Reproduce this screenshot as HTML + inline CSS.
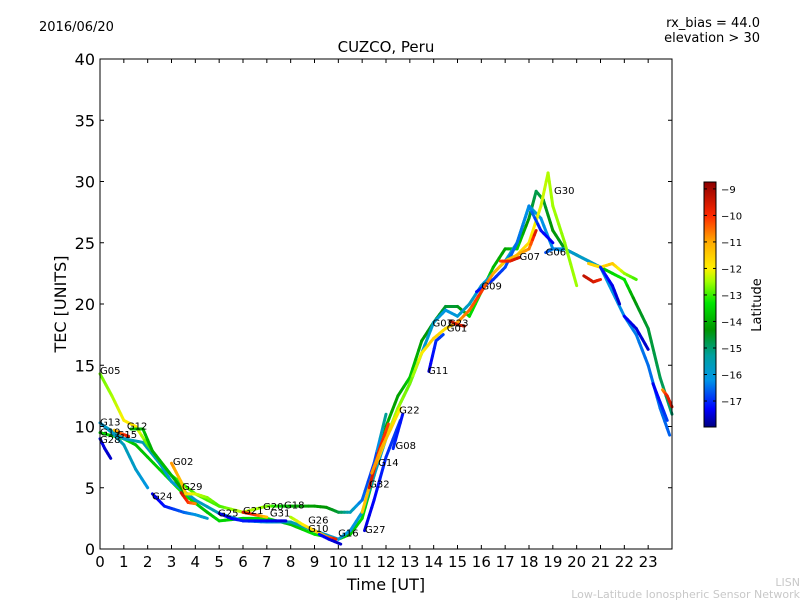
<!DOCTYPE html>
<html><head><meta charset="utf-8">
<style>
html,body{margin:0;padding:0;background:#fff;}
svg{display:block;font-family:"DejaVu Sans","Liberation Sans",sans-serif;}
</style></head>
<body>
<svg id="chart" width="800" height="600" viewBox="0 0 800 600" xmlns="http://www.w3.org/2000/svg">
  <defs>
    <linearGradient id="jet" x1="0" y1="1" x2="0" y2="0"></linearGradient>
  </defs>
  <text x="39" y="31" font-size="13">2016/06/20</text>
  <text x="760" y="27" font-size="13" text-anchor="end">rx_bias = 44.0</text>
  <text x="760" y="42" font-size="13" text-anchor="end">elevation &gt; 30</text>
  <text x="386" y="52" font-size="15" text-anchor="middle">CUZCO, Peru</text>
  <text x="386" y="590" font-size="16" text-anchor="middle">Time [UT]</text>
  <text transform="translate(66,304) rotate(-90)" font-size="16" text-anchor="middle">TEC [UNITS]</text>
  <text x="800" y="586" font-size="11" fill="#c8c8c8" text-anchor="end">LISN</text>
  <text x="800" y="598" font-size="11" fill="#c8c8c8" text-anchor="end">Low-Latitude Ionospheric Sensor Network</text>
  <g id="tracks"></g>
  <g id="labels"></g>
  <g id="axes"></g>
  <rect x="100" y="59" width="572" height="490" fill="none" stroke="#000" stroke-width="1"/>
  <rect x="704" y="182" width="12" height="245" fill="url(#jet)" stroke="#000" stroke-width="1"/>
  <g id="cbticks"></g>
  <text transform="translate(761,305) rotate(-90)" font-size="13" text-anchor="middle">Latitude</text>
</svg>
<script>
const xTicks = [0,1,2,3,4,5,6,7,8,9,10,11,12,13,14,15,16,17,18,19,20,21,22,23];
const yTicks = [0,5,10,15,20,25,30,35,40];
const cbTicks = [-9,-10,-11,-12,-13,-14,-15,-16,-17];

const trackA_t = [0,1,1.5,2.5,3.5,4.5,5,6,7,8,9,10,10.5,11,11.5,12,12.5,13,13.5,14,14.5,15,15.5,16,16.5,17,17.5,18,18.3,18.6,19,19.5,20,20.5,21,21.5,22,22.5,23,23.5,24];
const trackA_v = [9.5,9,8.5,6.5,4.5,3,2.3,2.5,2.5,2,1.2,0.8,1.2,2.5,6,10,12.5,14,17,18.5,19.8,19.8,19,21,23,24.5,24.5,27,29.2,28.5,26,24.5,24,23.5,23,22.5,22,20,18,14,11];
const trackA_l = [-13.5,-13.2,-13.8,-13.6,-13.2,-13.8,-13.5,-13.6,-13.2,-13.8,-13.3,-13.6,-13.8,-13.4,-13.8,-14,-14.2,-13.6,-14.2,-14.5,-14.6,-14.6,-13.5,-13.2,-13.8,-14.2,-13.5,-14.4,-14.8,-14.6,-14.3,-14.5,-14.5,-14.2,-13.8,-13.5,-13.2,-14.4,-14.6,-14.8,-15];

const trackB_t = [0.2,1,1.8,2.5,3,4,5,6,7,8,9,10,10.5,11,11.5,12,12.5,13,13.5,14,14.5,15,15.5,16,16.5,17,17.5,18,18.5,19,19.5,20,21,21.5,22,22.5,23,23.5,23.9];
const trackB_v = [10,9,8.7,7,5.5,4,2.9,2.3,2.2,2.2,1.5,0.8,1.5,3,6,9,11.5,13.5,16,18.5,19.5,19,20,21.5,22.5,23.5,25,28,27,24.5,24.5,24,23,21,19,17.5,15,11.5,9.3];
const trackB_l = [-15.5,-15.8,-15.5,-15.7,-16,-15.8,-15.5,-16.2,-16,-15.5,-15.6,-16,-16.2,-16,-15.8,-15.8,-15.5,-15.6,-16,-15.8,-16.2,-16,-15.7,-15.9,-16.2,-16,-15.8,-15.6,-16.2,-16.3,-16.2,-15.8,-16,-16.2,-16.3,-16.4,-16.5,-16.5,-16.6];

const trackF_t = [0,0.5,1,1.5,2,3,4,5,6,7,8,9,9.5,10,10.5,11,11.5,12];
const trackF_v = [14.3,12.5,10.5,10,8.5,6,4.5,3.5,3,3.5,3.5,3.5,3.4,3,3,4,7,11];
const trackF_l = [-12.8,-12.5,-12,-11.8,-12.9,-13.2,-12.9,-13,-12.3,-12.6,-14,-14.2,-14.3,-14.6,-15.5,-16.5,-17,-15];

const trackC_t = [17.5,18,18.5,18.8,19,19.5,20];
const trackC_v = [24,25,28,30.7,28,25,21.5];
const trackC_l = [-11.5,-11.8,-12.2,-12.4,-12.5,-12.6,-12.5];

const trackD_t = [15.8,16.5,17,17.5,18,18.5,19];
const trackD_v = [21,22,23,25,28,26,25];
const trackD_l = [-17.2,-17,-16.8,-16.5,-16.2,-17.2,-17.4];

const trackE_t = [11,11.5,12,12.5,13,13.5,14,14.5,15,15.5,16,16.5,17,17.5,18,18.3];
const trackE_v = [3,6.5,9,11.5,13.5,16,17.2,18,18.5,19.5,21,22.5,23.5,24,24.5,26];
const trackE_l = [-11.5,-11,-12,-12.5,-12.8,-12,-11.5,-11.8,-11,-10.5,-10,-11,-11.5,-11.2,-10.8,-9.5];

const trackG_t = [20.5,21,21.5,22,22.5];
const trackG_v = [23.3,23,23.3,22.5,22];
const trackG_l = [-11.5,-11.8,-11.3,-12.5,-13];

const trackH_t = [20.3,20.7,21];
const trackH_v = [22.3,21.8,22];
const trackH_l = [-9.3,-9.5,-9.8];

const trackI_t = [21,21.5,21.8];
const trackI_v = [23,21.5,20];
const trackI_l = [-17,-17.4,-17.6];

const trackJ_t = [22,22.5,23];
const trackJ_v = [19,18,16.3];
const trackJ_l = [-17.3,-17.5,-17.6];

const trackK_t = [23.2,23.5,23.8];
const trackK_v = [13.5,12,10.5];
const trackK_l = [-17.4,-17.2,-16.8];

const trackL_t = [23.6,23.8,24];
const trackL_v = [13,12.5,11.6];
const trackL_l = [-11,-9.8,-9.5];

const trackG28_t = [0,0.2,0.45];
const trackG28_v = [9,8.2,7.4];
const trackG28_l = [-17.2,-17.5,-17.6];

const trackG13_t = [0,0.5,1,1.5,2];
const trackG13_v = [10.3,9.5,8.5,6.5,5];
const trackG13_l = [-16,-15.8,-15.6,-15.8,-16.2];

const trackG12_t = [1.3,1.8,2.2,2.8,3.2,3.6];
const trackG12_v = [9.8,9.8,8,6.5,5.5,4.5];
const trackG12_l = [-13.6,-13.8,-14,-13.8,-14,-14.2];

const trackG15_t = [0.6,0.9,1.2];
const trackG15_v = [9.7,9.4,9.2];
const trackG15_l = [-11.5,-10.5,-9.5];

const trackG02_t = [3,3.4,3.6,4,4.5,5];
const trackG02_v = [7,5.5,4.5,4.5,4.2,3.5];
const trackG02_l = [-10.8,-11.3,-11.5,-12.2,-12.6,-13];

const trackG29_t = [3.4,3.7,4];
const trackG29_v = [4.6,3.8,3.7];
const trackG29_l = [-9.3,-10,-10.8];

const trackG24_t = [2.2,2.7,3.5,4,4.5];
const trackG24_v = [4.5,3.5,3,2.8,2.5];
const trackG24_l = [-17.5,-17.2,-16.6,-16.2,-15.8];

const trackG25_t = [5,5.5,6,7,7.8];
const trackG25_v = [2.9,2.5,2.3,2.3,2.3];
const trackG25_l = [-17.5,-17.3,-17.1,-17.3,-17.5];

const trackG21_t = [6,6.5,7];
const trackG21_v = [3,2.8,2.6];
const trackG21_l = [-9.4,-10,-11.5];

const trackG26_t = [8,8.5,9,9.5,9.9];
const trackG26_v = [2.6,2,1.5,1,0.8];
const trackG26_l = [-12.5,-12,-11.5,-11,-9.6];

const trackG16_t = [9.2,9.6,10.1];
const trackG16_v = [1.2,0.8,0.4];
const trackG16_l = [-17.2,-17.4,-17.6];

const trackG27_t = [11.1,11.5,12,12.6];
const trackG27_v = [1.5,4,7.5,10.5];
const trackG27_l = [-17.5,-17.3,-17,-16.8];

const trackG32_t = [11.3,11.7,12.1];
const trackG32_v = [5,8,10.2];
const trackG32_l = [-9.5,-9.8,-10.2];

const trackG14_t = [11.4,11.8,12.2,12.6];
const trackG14_v = [6.2,8.2,9.8,11.5];
const trackG14_l = [-10.8,-11,-11.5,-12];

const trackG08_t = [12.3,12.7];
const trackG08_v = [8.2,11];
const trackG08_l = [-17,-17.2];

const trackG11_t = [13.8,14.1,14.4];
const trackG11_v = [14.5,17,17.5];
const trackG11_l = [-17.5,-17,-16.8];

const trackG01_t = [14.7,15,15.3];
const trackG01_v = [18.6,18.3,18.2];
const trackG01_l = [-9.4,-9.5,-9.6];

const trackG07_t = [16.8,17.2,17.6];
const trackG07_v = [23.5,23.5,23.8];
const trackG07_l = [-10.2,-9.8,-9.4];

const trackG06_t = [18.7,19,19.4];
const trackG06_v = [24.2,24.5,24.4];
const trackG06_l = [-16.8,-16.4,-16.2];

const tracks = [
  ['track-a',trackA_t,trackA_v,trackA_l],['track-b',trackB_t,trackB_v,trackB_l],
  ['track-g05',trackF_t,trackF_v,trackF_l],['track-g30',trackC_t,trackC_v,trackC_l],
  ['track-g09',trackD_t,trackD_v,trackD_l],['track-g22',trackE_t,trackE_v,trackE_l],
  ['track-g',trackG_t,trackG_v,trackG_l],['track-h',trackH_t,trackH_v,trackH_l],
  ['track-i',trackI_t,trackI_v,trackI_l],['track-j',trackJ_t,trackJ_v,trackJ_l],
  ['track-k',trackK_t,trackK_v,trackK_l],['track-l',trackL_t,trackL_v,trackL_l],
  ['track-g28',trackG28_t,trackG28_v,trackG28_l],['track-g13',trackG13_t,trackG13_v,trackG13_l],
  ['track-g12',trackG12_t,trackG12_v,trackG12_l],['track-g15',trackG15_t,trackG15_v,trackG15_l],
  ['track-g02',trackG02_t,trackG02_v,trackG02_l],['track-g29',trackG29_t,trackG29_v,trackG29_l],
  ['track-g24',trackG24_t,trackG24_v,trackG24_l],['track-g25',trackG25_t,trackG25_v,trackG25_l],
  ['track-g21',trackG21_t,trackG21_v,trackG21_l],['track-g26',trackG26_t,trackG26_v,trackG26_l],
  ['track-g16',trackG16_t,trackG16_v,trackG16_l],['track-g27',trackG27_t,trackG27_v,trackG27_l],
  ['track-g32',trackG32_t,trackG32_v,trackG32_l],['track-g14',trackG14_t,trackG14_v,trackG14_l],
  ['track-g08',trackG08_t,trackG08_v,trackG08_l],['track-g11',trackG11_t,trackG11_v,trackG11_l],
  ['track-g01',trackG01_t,trackG01_v,trackG01_l],['track-g07',trackG07_t,trackG07_v,trackG07_l],
  ['track-g06',trackG06_t,trackG06_v,trackG06_l]
];

const labelNames = ['G05','G13','G12','G19','G15','G28','G02','G24','G29','G25','G21','G20','G31','G18','G26','G10','G16','G27','G32','G14','G08','G22','G11','G07','G23','G01','G09','G07','G06','G30'];
const labelT = [0,0,1.13,0,0.7,0,3.06,2.18,3.44,4.95,6.0,6.84,7.13,7.72,8.73,8.73,9.99,11.12,11.29,11.67,12.4,12.55,13.76,13.95,14.6,14.55,16.0,17.6,18.7,19.05];
const labelV = [14.6,10.4,10.1,9.6,9.4,9.0,7.2,4.35,5.15,3.0,3.2,3.5,3.0,3.65,2.4,1.7,1.35,1.65,5.35,7.1,8.5,11.4,14.6,18.5,18.5,18.1,21.5,23.9,24.3,29.3];

const X0=100,X1=672,Y0=549,Y1=59;
function xs(t){return X0+(X1-X0)*t/24;}
function ys(v){return Y0-(Y0-Y1)*v/40;}
const LMIN=-17.98,LMAX=-8.74;
function cbY(l){return 427-245*(l-LMIN)/(LMAX-LMIN);}
const cmapL=[-17.98,-17.3,-16.2,-15.3,-14.3,-13.3,-12.5,-12.0,-11.0,-10.0,-8.74];
const cmapC=[[0,0,128],[0,0,255],[0,150,230],[0,160,160],[0,150,0],[0,230,0],[160,255,0],[255,240,0],[255,170,0],[255,40,0],[140,0,0]];
function jet(l){
  l=Math.max(LMIN,Math.min(LMAX,l));
  let i=0; while(i<cmapL.length-2 && l>cmapL[i+1]) i++;
  const f=(l-cmapL[i])/(cmapL[i+1]-cmapL[i]);
  const c=cmapC[i].map((v,k)=>Math.round(v+(cmapC[i+1][k]-v)*f));
  return 'rgb('+c.join(',')+')';
}
const NS='http://www.w3.org/2000/svg';
function mk(tag,attrs,parent){const e=document.createElementNS(NS,tag);for(const k in attrs)e.setAttribute(k,attrs[k]);parent.appendChild(e);return e;}

const grad=document.getElementById('jet');
cmapL.forEach((l,i)=>{
  const s=mk('stop',{offset:(l-LMIN)/(LMAX-LMIN),'stop-color':'rgb('+cmapC[i].join(',')+')'},grad);
  
  
});

const gT=document.getElementById('tracks');
tracks.forEach(tr=>{
  const g=mk('g',{},gT);
  
  
  const t=tr[1],v=tr[2],l=tr[3];
  for(let i=0;i<t.length-1;i++){
    const n=4;
    for(let k=0;k<n;k++){
      const a=k/n,b=(k+1)/n;
      const lat=l[i]+(l[i+1]-l[i])*(a+b)/2;
      const s=mk('line',{x1:xs(t[i]+(t[i+1]-t[i])*a),y1:ys(v[i]+(v[i+1]-v[i])*a),x2:xs(t[i]+(t[i+1]-t[i])*b),y2:ys(v[i]+(v[i+1]-v[i])*b),stroke:jet(lat),'stroke-width':3,'stroke-linecap':'round'},g);
      
      
    }
  }
});

const gL=document.getElementById('labels');
labelNames.forEach((nm,i)=>{
  const e=mk('text',{x:xs(labelT[i]),y:ys(labelV[i])+4,'font-size':10},gL);
  e.textContent=nm;
  
  
});

const gA=document.getElementById('axes');
xTicks.forEach(t=>{
  const x=xs(t);
  const a=mk('line',{x1:x,y1:Y0,x2:x,y2:Y0-4,stroke:'#000'},gA);
  
  
  const b=mk('line',{x1:x,y1:Y1,x2:x,y2:Y1+4,stroke:'#000'},gA);
  
  
  const tx=mk('text',{x:x,y:Y0+18,'font-size':15,'text-anchor':'middle'},gA);
  tx.textContent=t;
  
  
});
yTicks.forEach(v=>{
  const y=ys(v);
  const a=mk('line',{x1:X0,y1:y,x2:X0+4,y2:y,stroke:'#000'},gA);
  
  
  const b=mk('line',{x1:X1,y1:y,x2:X1-4,y2:y,stroke:'#000'},gA);
  
  
  const tx=mk('text',{x:X0-5,y:y+6,'font-size':16,'text-anchor':'end'},gA);
  tx.textContent=v;
  
  
});
const gC=document.getElementById('cbticks');
cbTicks.forEach(l=>{
  const y=cbY(l);
  const a=mk('line',{x1:704,y1:y,x2:707,y2:y,stroke:'#000'},gC);
  
  
  const b=mk('line',{x1:716,y1:y,x2:713,y2:y,stroke:'#000'},gC);
  
  
  const tx=mk('text',{x:721,y:y+4,'font-size':10},gC);
  tx.textContent='\u2212'+Math.abs(l);
  
  
});
</script>
</body></html>
